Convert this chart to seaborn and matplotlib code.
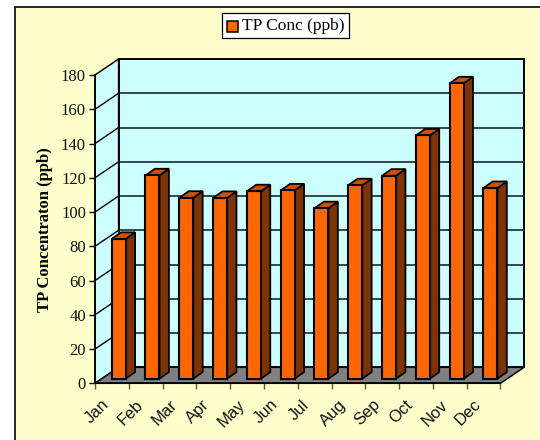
import matplotlib
matplotlib.use("Agg")
import matplotlib.pyplot as plt
import seaborn as sns
import pandas as pd
from matplotlib.patches import Polygon, Rectangle
from matplotlib.lines import Line2D
from matplotlib.transforms import Affine2D, blended_transform_factory

months = ["Jan", "Feb", "Mar", "Apr", "May", "Jun", "Jul", "Aug", "Sep", "Oct", "Nov", "Dec"]
tp_conc = [81.6, 118.7, 105.6, 105.5, 109.4, 109.9, 99.5, 112.9, 118.5, 142, 172.4, 111.3]
y_ticks = [0, 20, 40, 60, 80, 100, 120, 140, 160, 180]
series_name = "TP Conc (ppb)"
y_label = "TP Concentraton (ppb)"

W, H = 540, 440
sns.set_theme(style="white")
plt.rcParams["font.family"] = ["Liberation Serif", "DejaVu Serif"]
fig = plt.figure(figsize=(W / 100, H / 100), dpi=100, facecolor="white")

# pale frame
fig.add_artist(Rectangle((14.5 / W, -0.1), 1, 1.1 - 7.5 / H, transform=fig.transFigure,
                         facecolor="#FFFFCC", edgecolor="black", lw=1.2, zorder=-1))

L, R, B, T = 95.0, 500.5, 383.3, 75.0
ax = fig.add_axes([L / W, 1 - B / H, (R - L) / W, (B - T) / H])
ax.patch.set_alpha(0)


def px_off(dx, dy):
    return ax.transData + Affine2D().translate(dx, dy)


DX, DY = 23.6, 16.0
df = pd.DataFrame({"month": months, "value": tp_conc})
sns.barplot(data=df, x="month", y="value", ax=ax, color="#FF6600", saturation=1,
            width=14 / 33.8, edgecolor="black", linewidth=1.5, zorder=6)
ax.set_xlim(-0.5, len(months) - 0.5)
ax.set_ylim(0, 180)

# walls
x0, x1 = -0.5, len(months) - 0.5
wall_tr = px_off(DX, DY)
origin = Affine2D().translate(*ax.transData.transform((x0, 0)))
ax.add_patch(Rectangle((x0, 0), x1 - x0, 180, transform=wall_tr, facecolor="#CCFFFF",
                       edgecolor="black", lw=1.4, zorder=1, clip_on=False))
ax.add_patch(Polygon([(0, 0), (DX, DY), (DX, DY + (B - T)), (0, B - T)], closed=True,
                     transform=origin,
                     facecolor="#CCFFFF", edgecolor="black", lw=1.1, zorder=2, clip_on=False))
ax.add_patch(Polygon([(0, 0), (R - L, 0), (R - L + DX, DY), (DX, DY)], closed=True,
                     transform=origin,
                     facecolor="#808080", edgecolor="black", lw=1.1, zorder=3, clip_on=False))
for v in y_ticks[1:-1]:
    ax.plot([x0, x1], [v, v], transform=wall_tr, color="#1a2a2a", lw=1.2, zorder=1.5, clip_on=False)
    p = ax.transData.transform((x0, v))
    ax.add_line(Line2D([p[0], p[0] + DX], [p[1], p[1] + DY], transform=Affine2D(), color="black",
                       lw=1.0, zorder=2.5, clip_on=False))

# 3D bar faces
bdx, bdy = 9.4, 6.6
fx, fy = 6.8, 4.6
bar_tr = Affine2D().translate(fx, fy)
for bar in ax.patches[:len(months)]:
    bar.set_transform(ax.transData + bar_tr)
    bar.set_clip_on(False)
    (xa, ya), (xb, yb) = ax.transData.transform([(bar.get_x(), 0), (bar.get_x() + bar.get_width(), bar.get_height())])
    xa += fx; xb += fx; ya += fy; yb += fy
    ax.add_patch(Polygon([(xb, ya), (xb + bdx, ya + bdy), (xb + bdx, yb + bdy), (xb, yb)], closed=True,
                         transform=Affine2D(), facecolor="#7F3300", edgecolor="black", lw=1.3,
                         zorder=5, clip_on=False))
    ax.add_patch(Polygon([(xa, yb), (xb, yb), (xb + bdx, yb + bdy), (xa + bdx, yb + bdy)], closed=True,
                         transform=Affine2D(), facecolor="#CC5200", edgecolor="black", lw=1.3,
                         zorder=5, clip_on=False))

# axes
for s in ["top", "right"]:
    ax.spines[s].set_visible(False)
for s in ["left", "bottom"]:
    ax.spines[s].set_color("black")
    ax.spines[s].set_linewidth(1.2)
    ax.spines[s].set_zorder(4)
ax.set_yticks(y_ticks)
ax.set_yticklabels([str(v) for v in y_ticks], fontsize=12, color="#111111")
ax.tick_params(axis="y", length=4.5, width=1, color="black", pad=2, left=True)
ax.set_xticks([i - 0.5 for i in range(len(months) + 1)])
ax.set_xticklabels([""] * (len(months) + 1))
ax.tick_params(axis="x", length=4.5, width=1, color="#555555", bottom=True)
ax.set_xlabel("")
ax.set_ylabel("")
xt = blended_transform_factory(ax.transData, fig.transFigure)
for i, m in enumerate(months):
    ax.text(i - 0.45, 1 - 397 / H, m, transform=xt, rotation=45, ha="center", va="top",
            fontsize=12, family=["Liberation Sans", "DejaVu Sans"], color="#111111", clip_on=False)
fig.text(45 / W, 1 - 229.5 / H, y_label, rotation=90, ha="center", va="center", fontsize=12,
         fontweight="bold", color="black")

# legend
fig.add_artist(Rectangle((221.5 / W, 1 - 38.5 / H), 127 / W, 25 / H, transform=fig.transFigure,
                         facecolor="white", edgecolor="black", lw=0.9))
fig.add_artist(Rectangle((227 / W, 1 - 32 / H), 11 / W, 11 / H, transform=fig.transFigure,
                         facecolor="#FF6600", edgecolor="black", lw=1.1))
fig.text(242 / W, 1 - 26.5 / H, series_name, ha="left", va="center", fontsize=12.5, color="black")

fig.savefig("out.png", dpi=100)
